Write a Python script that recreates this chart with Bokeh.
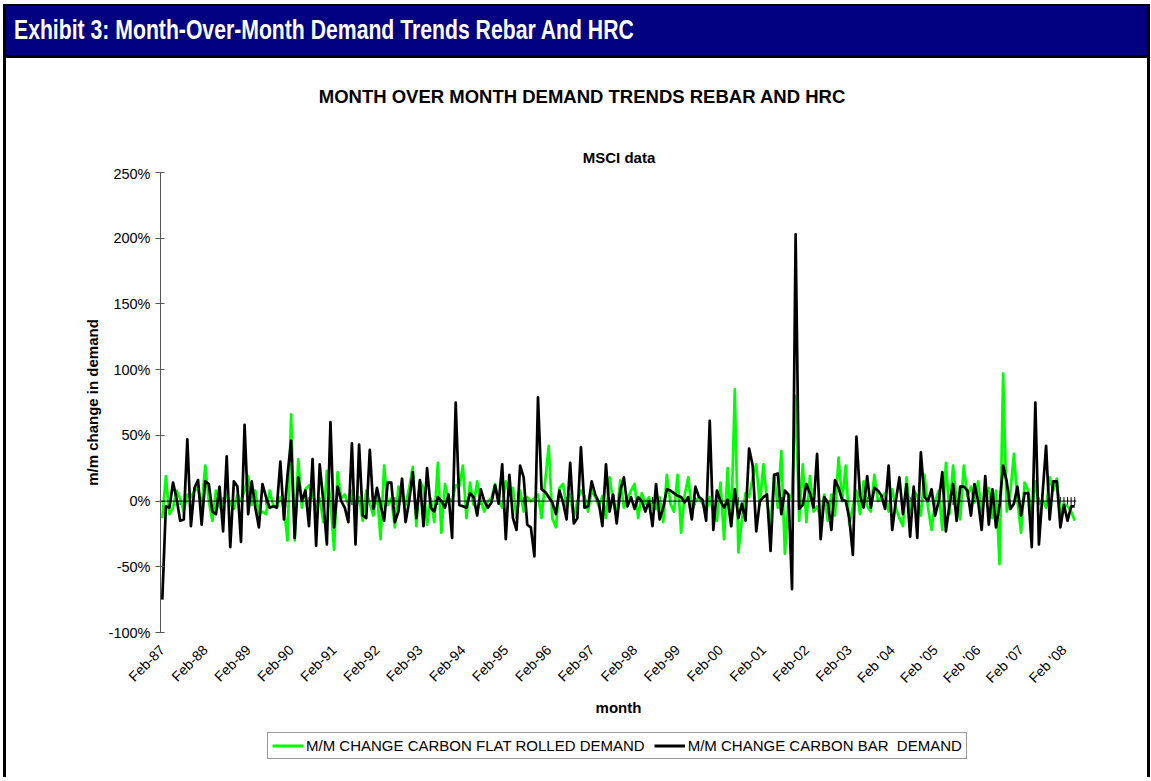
import math
import pandas as pd
from bokeh.plotting import figure
from bokeh.layouts import row, column
from bokeh.models import (Range1d, FixedTicker, PrintfTickFormatter, Div,
                          Span, Legend, LegendItem)
from bokeh.embed import file_html
from bokeh.resources import INLINE

# ---------------- data ----------------
months = list(pd.date_range("1987-02-01", periods=256, freq="MS").strftime("%b-%y"))

flat_rolled = [  # M/M change carbon flat rolled demand, %
    -13, 19, -10, -5, 8, 2, -8, 5, 3, 8, 10, -5, 27, 0, -15, 8, -5, -3, 5, -2,
    -6, 5, 0, 8, 19, -3, 8, -10, -8, -10, 8, -3, -5, 3, -5, -30, 66, -30, 32, -5,
    9, 12,
    5, -5, 2, -16, 23, 0, -37, 22, 2, 5, -3, 8, -5, 3, -15, 8, -2, -11, 8, -29,
    27, -3, 2, -20, 11, 2, -3, 10, 26, -19, 15, 10, -18, 2, -16, 29, -24, 13, 2, 0,
    12, 11, 27,
    -13, 14, -3, 15, 0, -8, 0, 2, 13, 0, -5, 15, 5, 10, -13, 8, -8, 3, 0, 2,
    5, -13, 15, 42, -13, -20, 10, 13, -5, 5, -13, 0, 8, 4, -8, 8, 3, -4, 4, -13,
    18, 0, -11,
    16, -5, 2, 8, 13, -13, 6, -2, 3, -5, -6, 3, -16, 20, -2, -8, 20, -24, 5, 18,
    -8, 0, 3, -2, -8, 3, -8, -15, 14, -29, 25, -19, 85, -39, -14, 6, 3, 18, 28, -3,
    28, 0, -18, 20,
    -5, 38, -40, 0, 5, 80, -15, 28, -16, 19, -8, -4, -13, 5, -15, 5, -11, 33, 0, 27,
    -18, -4, 8, -10, 15, -4, -8, 20, 0, 3, 6, -8, 9, -5, -13, -19, 18, -8, 8, 4,
    -11, 20, -5,
    -22, 0, 8, -22, 29, -10, 27, 0, -14, 27, 4, 11, -1, 15, -8, 3, 10, -13, 8, -48,
    97, -8, 6, 36, 0, -24, 14, 8, -10, 15, -2, 1, -5, 18, 8, 17, -10, -2, -4, -8,
    -15,
]

carbon_bar = [  # M/M change carbon bar demand, %
    -75, -4, -5, 14, 2, -15, -14, 47, -19, 10, 16, -18, 15, 13, -8, -10, 11, -23, 34, -35,
    15, 11, -31, 58, -10, 15, -5, -20, 13, 3, -5, -4, -5, 30, -14, 20, 46, -28, 18, 0,
    8, -19,
    32, -34, 28, 0, -33, 60, -20, 11, 0, -5, -16, 44, -33, 43, -11, -13, 39, -6, 10, -3,
    -15, 14, 14, -16, -8, 17, -16, 0, 22, -13, 16, -19, 25, -5, -8, 3, 0, -5, 5, -28,
    75, -3,
    -4, -5, 6, 3, -11, 9, 0, -5, -1, 12, -2, 28, -29, 20, -13, -22, 27, 18, -18, -20,
    -42, 79, 9, 7, 3, -1, -10, 8, -1, -14, 29, -17, -13, 41, -5, -4, 15, 5, -1, -19,
    28, -8, 5, -17,
    8, 18, -4, 3, -6, 3, 0, -8, 0, -19, 13, -14, -5, 9, 8, 6, 4, 3, -1, 3,
    -14, 11, 3, 1, -15, 61, -22, 8, 0, -5, 1, -19, 9, -13, -2, -15, 40, 27, -23, 0,
    3, 5, -38,
    20, 21, -10, 8, 5, -67, 203, -6, -3, 13, 6, -5, 36, -29, 3, -1, -22, 16, 10, 1,
    0, -13, -41, 49, 4, -5, 19, -5, 10, 8, 4, -6, 27, -22, 0, 18, -10, 13, -27, 11,
    -28, 37, 3, 0,
    9, -11, 0, 22, -23, -3, 13, -15, 11, 11, 8, -11, 13, 0, -22, 19, -18, 9, -20, -3,
    27, 15, -6, -2, 11, -11, 6, 6, -35, 75, -33, 5, 42, -14, 15, 15, -20, -3, -15, -4,
    -4,
]

x_tick_labels = ["Feb-87", "Feb-88", "Feb-89", "Feb-90", "Feb-91", "Feb-92", "Feb-93",
                 "Feb-94", "Feb-95", "Feb-96", "Feb-97", "Feb-98", "Feb-99", "Feb-00",
                 "Feb-01", "Feb-02", "Feb-03", "Feb '04", "Feb '05", "Feb '06",
                 "Feb '07", "Feb '08"]
y_ticks = [-100, -50, 0, 50, 100, 150, 200, 250]

exhibit_title = "Exhibit 3: Month-Over-Month Demand Trends Rebar And HRC"
chart_title = "MONTH OVER MONTH DEMAND TRENDS REBAR AND HRC"
subtitle = "MSCI data"
series_names = ["M/M CHANGE CARBON FLAT ROLLED DEMAND", "M/M CHANGE CARBON BAR  DEMAND"]
series_colors = ["#00FF00", "black"]

# ---------------- layout constants ----------------
FONT = "Liberation Sans"
INNER_W = 1141
TOP_H = 165
MAIN_H = 557
LEG_H = 55
BAR_W = 3

# ---------------- header strip (HTML) ----------------
top_html = f"""
<div style="position:relative;width:{INNER_W}px;height:{TOP_H}px;background:white;overflow:hidden;">
  <div style="position:absolute;left:0;top:4px;width:{INNER_W}px;height:54px;background:black;"></div>
  <div style="position:absolute;left:0;top:6px;width:{INNER_W}px;height:49px;background:#000080;"></div>
  <div style="position:absolute;left:8px;top:6px;height:49px;line-height:49px;color:white;
              font-family:'Liberation Sans';font-weight:bold;font-size:27px;white-space:nowrap;
              transform:scaleX(0.785);transform-origin:0 50%;">{exhibit_title}</div>
  <div style="position:absolute;left:276px;top:86px;width:600px;text-align:center;line-height:22px;
              font-family:'Liberation Sans';font-weight:bold;font-size:18.5px;color:black;
              white-space:nowrap;">{chart_title}</div>
  <div style="position:absolute;left:513px;top:150px;width:200px;text-align:center;line-height:15px;
              font-family:'Liberation Sans';font-weight:bold;font-size:15px;color:black;
              white-space:nowrap;">{subtitle}</div>
</div>
"""
top = Div(text=top_html, width=INNER_W, height=TOP_H, margin=0)

# ---------------- main chart ----------------
idx = list(range(len(months)))
feb_idx = [i for i, m in enumerate(months) if m.startswith("Feb")]
zero_ticks = [i for i in idx if i % 12 == 5] + idx[-5:]

p = figure(width=INNER_W, height=MAIN_H, output_backend="svg", toolbar_location=None,
           x_range=Range1d(-0.5, len(months) - 0.5), y_range=Range1d(-100, 250),
           min_border_left=154, min_border_right=71, min_border_top=7,
           min_border_bottom=90, margin=0)
p.grid.visible = False
p.outline_line_color = None
p.background_fill_color = "white"
p.border_fill_color = "white"

ya = p.yaxis[0]
ya.ticker = FixedTicker(ticks=y_ticks)
ya.formatter = PrintfTickFormatter(format="%d%%")
ya.major_tick_in = 4
ya.major_tick_out = 5
ya.minor_tick_line_color = None
ya.axis_line_color = "#555555"
ya.major_tick_line_color = "#555555"
ya.major_label_text_font = FONT
ya.major_label_text_font_size = "14.5px"
ya.major_label_text_color = "black"
ya.major_label_standoff = 5
ya.axis_label = "m/m change in demand"
ya.axis_label_text_font = FONT
ya.axis_label_text_font_style = "bold"
ya.axis_label_text_font_size = "15px"
ya.axis_label_text_color = "black"
ya.axis_label_standoff = 5

xa = p.xaxis[0]
xa.ticker = FixedTicker(ticks=feb_idx)
xa.major_label_overrides = {i: lab for i, lab in zip(feb_idx, x_tick_labels)}
xa.axis_line_color = None
xa.major_tick_line_color = None
xa.minor_tick_line_color = None
xa.major_label_orientation = math.pi / 4
xa.major_label_standoff = 9
xa.major_label_text_font = FONT
xa.major_label_text_font_size = "14px"
xa.major_label_text_color = "black"
xa.axis_label = "month"
xa.axis_label_text_font = FONT
xa.axis_label_text_font_style = "bold"
xa.axis_label_text_font_size = "15px"
xa.axis_label_text_color = "black"
xa.axis_label_standoff = 4

p.add_layout(Span(location=0, dimension="width", line_color="black", line_width=1))
p.segment(x0=zero_ticks, x1=zero_ticks, y0=[-3] * len(zero_ticks), y1=[3] * len(zero_ticks),
          line_color="black", line_width=1)

p.line(idx, flat_rolled, line_color=series_colors[0], line_width=2.7, line_join="round")
p.line(idx, carbon_bar, line_color=series_colors[1], line_width=2.7, line_join="round")

# ---------------- legend strip ----------------
# the legend keys reuse the series, but this strip's ranges keep them out of view
lg = figure(width=INNER_W, height=LEG_H, output_backend="svg", toolbar_location=None,
            x_range=Range1d(-20, -10), y_range=Range1d(1000, 1001),
            min_border_left=154, min_border_right=71, min_border_top=0,
            min_border_bottom=0, margin=0)
lg.axis.visible = False
lg.grid.visible = False
lg.outline_line_color = None
lg.background_fill_color = "white"
lg.border_fill_color = "white"
key_g = lg.line(idx, flat_rolled, line_color=series_colors[0], line_width=3)
key_b = lg.line(idx, carbon_bar, line_color=series_colors[1], line_width=3)
legend = Legend(items=[LegendItem(label=series_names[0], renderers=[key_g]),
                       LegendItem(label=series_names[1], renderers=[key_b])],
                orientation="horizontal", location=(107, 18), margin=0,
                padding=4, spacing=9, label_standoff=3, glyph_width=31, glyph_height=17,
                label_text_font=FONT, label_text_font_size="15px",
                label_text_color="black", border_line_color="#333333", border_line_width=1,
                background_fill_color="white", background_fill_alpha=1)
lg.add_layout(legend, "center")

# ---------------- side borders ----------------
bar_h = TOP_H + MAIN_H + LEG_H - 4
left_bar = Div(text="", width=BAR_W, height=bar_h, margin=(4, 0, 0, 3),
               styles={"background-color": "black"})
right_bar = Div(text="", width=BAR_W, height=bar_h, margin=(4, 0, 0, 0),
                styles={"background-color": "black"})

layout = row(left_bar, column(top, p, lg, spacing=0), right_bar, spacing=0)

open("out.html", "w").write(file_html(layout, INLINE))
